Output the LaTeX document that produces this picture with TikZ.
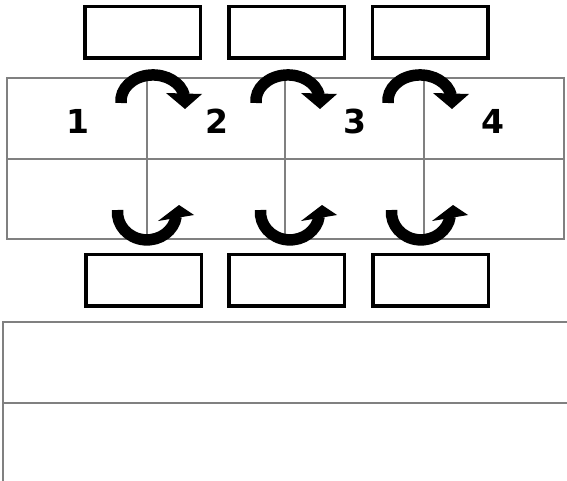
\documentclass[tikz,border=0pt]{standalone}
\usepackage{fontspec}
\setmainfont{DejaVu Sans}

\begin{document}
\begin{tikzpicture}[x=1pt,y=-1pt,
		cell/.style={draw=gray,line width=1.6pt},
		slot/.style={draw,line width=3.5pt,minimum width=115.5pt,minimum height=51.5pt,inner sep=0pt},
		turn/.style={line width=11.5pt},
		num/.style={font=\bfseries\fontsize{33}{36}\selectfont,inner sep=0pt}]
		\useasboundingbox (0,0) rectangle (567,481);
		\clip (0,0) rectangle (567,481);

		% Upper table
		\draw[cell] (7,78) rectangle (564,239);
		\draw[cell] (7,159) -- (564,159);
		\foreach \x in {147,285,424}
			\draw[cell] (\x,78) -- (\x,239);

		% Lower table
		\draw[cell] (3,322) rectangle (600,520);
		\draw[cell] (3,403) -- (600,403);

		% Slots above and below
		\node[slot] (top1) at (142.5,32.5) {};
		\node[slot] (top2) at (286.5,32.5) {};
		\node[slot] (top3) at (430,32.5) {};
		\node[slot] (bot1) at (143.5,280) {};
		\node[slot] (bot2) at (286.5,280) {};
		\node[slot] (bot3) at (430.5,280) {};

		% Numbers
		\node[num] (n1) at (78,121) {1};
		\node[num] (n2) at (217,121) {2};
		\node[num] (n3) at (355,121) {3};
		\node[num] (n4) at (493,121) {4};

		% Arrows over the top
		\foreach \m in {153,288,420} {
			\draw[turn] (\m-31.9,103) arc (175:348:32 and 25.8);
			\fill (\m+13,93) -- (\m+49,94) -- (\m+32,109) -- cycle;
		}
		% Arrows under the bottom
		\foreach \m in {147,290,421} {
			\draw[turn] (\m-29.4,210) arc (185:8:29.5 and 27.5);
			\fill (\m+11,221) -- (\m+47,215) -- (\m+32,205) -- cycle;
		}
	\end{tikzpicture}
\end{document}
